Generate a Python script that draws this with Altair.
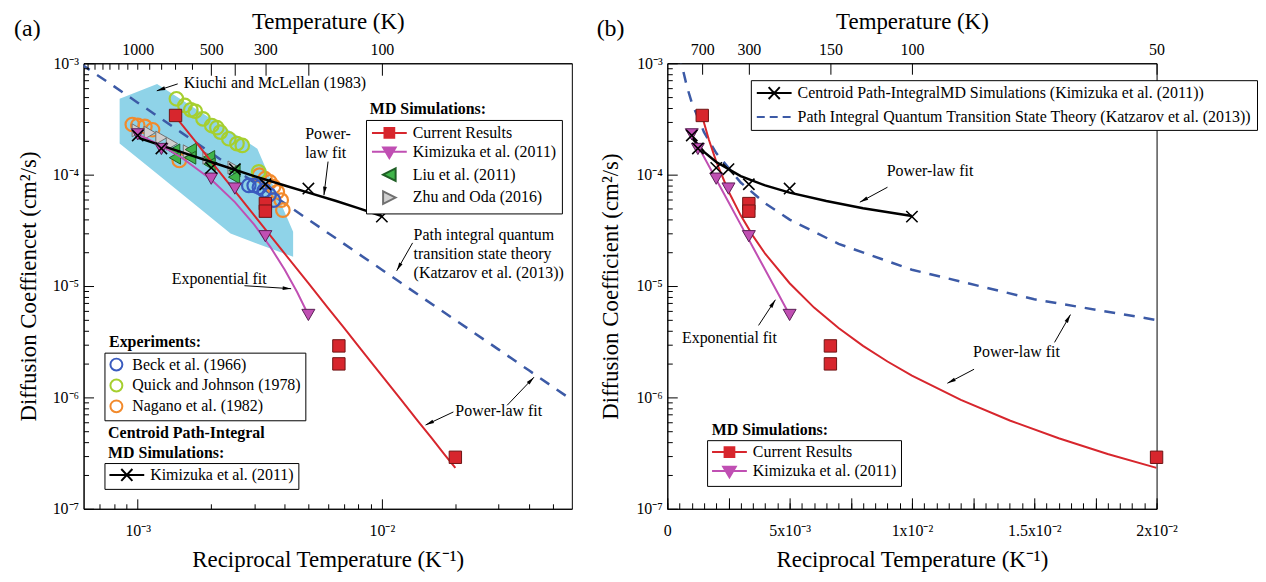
import math
import altair as alt
import pandas as pd

# ---------------- values ----------------
# x = reciprocal temperature 1/T (1/K), D = diffusion coefficient (cm^2/s)
cur_x = [1/700, 1/300, 1/300, 1/150, 1/150, 1/50]
cur_D = [3.4e-4, 5.5e-5, 4.7e-5, 2.9e-6, 2.0e-6, 2.9e-7]

kmd_x = [1/1000, 1/800, 1/500, 1/400, 1/300, 1/200]
kmd_D = [2.3e-4, 1.7e-4, 9.2e-5, 7.5e-5, 2.8e-5, 5.5e-6]

cpi_x = [1/1000, 1/800, 1/500, 1/400, 1/300, 1/200, 1/100]
cpi_D = [2.25e-4, 1.72e-4, 1.15e-4, 1.12e-4, 8.2e-5, 7.5e-5, 4.2e-5]

liu_x = [1.41e-3, 1.42e-3, 1.65e-3, 1.64e-3, 1.96e-3, 1.97e-3, 2.49e-3, 2.48e-3]
liu_D = [1.65e-4, 1.42e-4, 1.68e-4, 1.42e-4, 1.44e-4, 1.24e-4, 1.09e-4, 9.5e-5]

zhu_x = [1.0e-3, 1.12e-3, 1.25e-3, 1.38e-3, 1.62e-3, 1.95e-3, 2.47e-3]
zhu_D = [2.5e-4, 2.38e-4, 2.15e-4, 1.9e-4, 1.62e-4, 1.42e-4, 1.16e-4]

beck_x = [2.85e-3, 3.0e-3, 3.15e-3, 3.3e-3, 3.45e-3, 3.6e-3]
beck_D = [8.0e-5, 8.0e-5, 7.7e-5, 7.2e-5, 6.6e-5, 5.9e-5]

quick_x = [1.44e-3, 1.56e-3, 1.65e-3, 1.72e-3, 1.85e-3, 2.01e-3, 2.11e-3, 2.18e-3, 2.36e-3, 2.55e-3, 2.68e-3, 3.13e-3]
quick_D = [4.8e-4, 4.18e-4, 3.82e-4, 3.71e-4, 3.17e-4, 2.76e-4, 2.64e-4, 2.41e-4, 2.1e-4, 1.9e-4, 1.83e-4, 1.06e-4]

nag_x = [9.5e-4, 1.0e-3, 1.07e-3, 1.15e-3, 1.48e-3, 3.15e-3, 3.32e-3, 3.48e-3, 3.6e-3, 3.73e-3, 3.87e-3, 3.93e-3]
nag_D = [2.82e-4, 2.77e-4, 2.71e-4, 2.53e-4, 1.34e-4, 9.9e-5, 9.2e-5, 8.6e-5, 7.8e-5, 7.0e-5, 5.9e-5, 4.8e-5]

# Kiuchi and McLellan (1983) band: upper / lower edge
kiu_x = [8.43e-4, 1.2e-3, 2.4e-3, 3.09e-3, 4.33e-3]
kiu_hi = [4.8e-4, 6.53e-4, 2.45e-4, 1.71e-4, 3.07e-5]
kiu_lo = [1.9e-4, 1.02e-4, 2.96e-5, 2.4e-5, 1.83e-5]

# fitted curves
red_x = [1.43e-3, 1.7e-3, 2.0e-3, 2.5e-3, 3.0e-3, 3.5e-3, 4.0e-3, 5.0e-3, 6.0e-3, 7.0e-3,
         8.0e-3, 9.0e-3, 1.0e-2, 1.2e-2, 1.4e-2, 1.6e-2, 1.8e-2, 2.0e-2]
red_D = [3.31e-4, 2.06e-4, 1.31e-4, 7.1e-5, 4.31e-5, 2.82e-5, 1.95e-5, 1.06e-5, 6.4e-6, 4.2e-6,
         2.9e-6, 2.1e-6, 1.57e-6, 9.5e-7, 6.2e-7, 4.3e-7, 3.1e-7, 2.33e-7]

mag_x = [1.0e-3, 1.25e-3, 1.5e-3, 2.0e-3, 2.5e-3, 3.0e-3, 3.5e-3, 4.0e-3, 4.5e-3, 5.0e-3]
mag_D = [2.3e-4, 1.82e-4, 1.44e-4, 9.05e-5, 5.67e-5, 3.56e-5, 2.23e-5, 1.4e-5, 8.8e-6, 5.5e-6]

blk_x = [1.0e-3, 1.5e-3, 2.0e-3, 3.0e-3, 4.0e-3, 5.0e-3, 6.5e-3, 8.0e-3, 1.0e-2]
blk_D = [2.15e-4, 1.6e-4, 1.3e-4, 9.7e-5, 8.0e-5, 6.9e-5, 5.8e-5, 5.0e-5, 4.25e-5]

pq_x = [5.0e-4, 6e-4, 8e-4, 1e-3, 1.5e-3, 2e-3, 3e-3, 4e-3, 5e-3, 7e-3, 1e-2, 1.5e-2, 2e-2, 3e-2, 4e-2, 6e-2]
pq_D = [1.25e-3, 9.5e-4, 6.2e-4, 4.43e-4, 2.41e-4, 1.56e-4, 8.5e-5, 5.53e-5, 3.95e-5, 2.39e-5,
        1.4e-5, 7.6e-6, 4.95e-6, 2.7e-6, 1.75e-6, 9.5e-7]

# annotations, panel (a)
ann_a_txt = ["Kiuchi and McLellan (1983)", "Power-", "law fit", "Path integral quantum",
             "transition state theory", "(Katzarov et al. (2013))", "Exponential fit", "Power-law fit"]
ann_a_x = [1.543e-3, 4.85e-3, 4.85e-3, 1.349e-2, 1.349e-2, 1.349e-2, 1.378e-3, 2.0e-2]
ann_a_D = [6.67e-4, 2.34e-4, 1.55e-4, 2.87e-5, 1.94e-5, 1.32e-5, 1.16e-5, 7.55e-7]
head_a_txt = ["MD Simulations:", "Experiments:", "Centroid Path-Integral", "MD Simulations:"]
head_a_x = [8.93e-3, 7.63e-4, 7.56e-4, 7.56e-4]
head_a_D = [3.91e-4, 3.12e-6, 4.8e-7, 3.18e-7]
arr_a_x1 = [1.458e-3, 6.02e-3, 1.336e-2, 2.735e-3, 1.963e-2, 3.26e-2]
arr_a_D1 = [6.53e-4, 1.31e-4, 2.44e-5, 1.007e-5, 7.4e-7, 8.5e-7]
arr_a_x2 = [1.197e-3, 5.79e-3, 1.15e-2, 4.25e-3, 1.51e-2, 4.2e-2]
arr_a_D2 = [5.66e-4, 6.53e-5, 1.37e-5, 9.46e-6, 5.65e-7, 1.52e-6]

# annotations, panel (b)
ann_b_txt = ["Power-law fit", "Exponential fit", "Power-law fit"]
ann_b_x = [8.97e-3, 6.0e-4, 1.25e-2]
ann_b_D = [1.08e-4, 3.38e-6, 2.54e-6]
head_b_txt = ["MD Simulations:"]
head_b_x = [1.82e-3]
head_b_D = [5.1e-7]
arr_b_x1 = [9.0e-3, 3.73e-3, 1.254e-2, 1.583e-2]
arr_b_D1 = [7.71e-5, 4.43e-6, 1.79e-6, 3.12e-6]
arr_b_x2 = [7.87e-3, 4.42e-3, 1.145e-2, 1.648e-2]
arr_b_D2 = [5.66e-5, 7.53e-6, 1.34e-6, 5.54e-6]

# ---------------- styling / layout ----------------
SERIF = "Liberation Serif"
W_A, W_B, H = 491, 492, 448
XDOM_A = [6e-4, 6e-2]
XDOM_B = [0.0, 0.02]
YDOM = [1e-7, 1e-3]

RED, RED_E = "#d7262d", "#6e1414"
MAG, MAG_E = "#c04fb3", "#5a1f55"
GRN, GRN_E = "#3fb449", "#1f5f25"
GRY, GRY_E = "#d0d0d0", "#707070"
BLU_C, YG_C, OR_C = "#3a5bbf", "#a6cf2f", "#f28a2c"
DASH_C = "#3c5aa6"
BAND = "#8fd3e8"

xs_a = alt.Scale(type="log", domain=XDOM_A, nice=False)
xs_b = alt.Scale(type="linear", domain=XDOM_B, nice=False, zero=False)
ys = alt.Scale(type="log", domain=YDOM, nice=False)

X_PATH = "M-1,-1L1,1M-1,1L1,-1"
HEAD = "M0,0L0.4,1.8L-0.4,1.8Z"
P_LINE_SQ = "M-1,0H4M0.8,-0.7H2.2V0.7H0.8Z"
P_LINE_TRI = "M-1,0H4M0.6,-0.6H2.4L1.5,0.9Z"
P_LEFT = "M0.6,0L2.4,-0.9V0.9Z"
P_RIGHT = "M2.4,0L0.6,-0.9V0.9Z"
P_LINE_X = "M-1,0H4M0.7,-0.85L2.3,0.85M0.7,0.85L2.3,-0.85"
P_LINE = "M-1,0H4"


def ex(xs, f="x"):
    return alt.X(f"{f}:Q", scale=xs, axis=None)


def ey(f="D"):
    return alt.Y(f"{f}:Q", scale=ys, axis=None)


def tab(x, D, **extra):
    d = {"x": list(x), "D": list(D)}
    d.update(extra)
    return pd.DataFrame(d)


def line(xs, x, D, color, width=2.0, dash=None):
    kw = dict(color=color, strokeWidth=width, clip=True)
    if dash:
        kw["strokeDash"] = dash
    return alt.Chart(tab(x, D)).mark_line(**kw).encode(x=ex(xs), y=ey())


def pts(xs, x, D, shape, stroke, size, fill=None, sw=1.0):
    kw = dict(shape=shape, size=size, opacity=1, stroke=stroke, strokeWidth=sw, clip=False)
    if fill:
        kw.update(filled=True, fill=fill)
    else:
        kw.update(filled=False)
    return alt.Chart(tab(x, D)).mark_point(**kw).encode(x=ex(xs), y=ey())


def texts(xs, x, D, txt, bold=False, size=16, align="left"):
    return alt.Chart(tab(x, D, t=txt)).mark_text(
        align=align, baseline="middle", font=SERIF, fontSize=size,
        fontWeight="bold" if bold else "normal", color="black"
    ).encode(x=ex(xs), y=ey(), text="t:N")


def arrows(xs, x1, D1, x2, D2, topx):
    angs = []
    for a, b, c, d in zip(x1, D1, x2, D2):
        px1, px2 = topx(a), topx(c)
        py1 = H * (-3 - math.log10(b)) / 4
        py2 = H * (-3 - math.log10(d)) / 4
        ang = math.degrees(math.atan2(px2 - px1, -(py2 - py1))) % 360
        angs.append(ang)
    d = pd.DataFrame({"x": x1, "D": D1, "x2": x2, "D2": D2, "ang": angs})
    rule = alt.Chart(d).mark_rule(color="black", strokeWidth=1).encode(
        x=ex(xs), y=ey(), x2="x2:Q", y2="D2:Q")
    head = alt.Chart(d).mark_point(shape=HEAD, filled=True, color="black", size=90, opacity=1).encode(
        x=ex(xs, "x2"), y=ey("D2"), angle=alt.Angle("ang:Q", scale=None))
    return [rule, head]


def axis_layer(xs, xv, xaxis=None, yaxis=None):
    return alt.Chart(pd.DataFrame({"x": [xv], "D": [1e-5]})).mark_point(opacity=0).encode(
        x=alt.X("x:Q", scale=xs, axis=xaxis), y=alt.Y("D:Q", scale=ys, axis=yaxis))


def lab_axis(orient, values, expr, title, lp, tp):
    return alt.Axis(orient=orient, values=values, labelExpr=expr, ticks=False, domain=True,
                    domainColor="black", domainWidth=1, labelPadding=lp, title=title, titlePadding=tp,
                    labelFont=SERIF, labelFontSize=16, labelColor="black", labelFlush=False,
                    labelOverlap=False, grid=False, titleFont=SERIF, titleFontSize=23,
                    titleColor="black", titleFontWeight="normal")


def tick_axis(orient, offset, values, size):
    return alt.Axis(orient=orient, offset=offset, values=values, labels=False, ticks=True,
                    tickSize=size, tickColor="black", tickWidth=1, domain=False, grid=False,
                    title=None, zindex=1)


def legend_layer(xs, far_x, names, shapes, fills, strokes, lx, ly, ssize=196, loff=26,
                 fsize=16, pad=5, rowpad=1, dashes=None):
    d = pd.DataFrame({"x": [far_x] * len(names), "D": [1e-5] * len(names), "s": names})
    leg = alt.Legend(title=None, orient="none", legendX=lx, legendY=ly, strokeColor="black",
                     fillColor="white", padding=pad, labelFont=SERIF, labelFontSize=fsize,
                     labelColor="black", symbolSize=ssize, symbolStrokeWidth=2, labelOffset=loff,
                     rowPadding=rowpad, labelLimit=700)
    e = dict(
        x=ex(xs), y=ey(),
        shape=alt.Shape("s:N", scale=alt.Scale(domain=names, range=shapes), legend=leg),
        fill=alt.Fill("s:N", scale=alt.Scale(domain=names, range=fills), legend=leg),
        stroke=alt.Stroke("s:N", scale=alt.Scale(domain=names, range=strokes), legend=leg),
    )
    if dashes:
        e["strokeDash"] = alt.StrokeDash("s:N", scale=alt.Scale(domain=names, range=dashes), legend=leg)
    return alt.Chart(d).mark_point(clip=True, opacity=1, strokeWidth=2).encode(**e)


YMAJ = [1e-7, 1e-6, 1e-5, 1e-4, 1e-3]
YMIN = [k * 10.0 ** e for e in range(-7, -3) for k in range(2, 10)]
YLAB = ("datum.value < 5e-7 ? '10⁻⁷' : datum.value < 5e-6 ? '10⁻⁶' : "
        "datum.value < 5e-5 ? '10⁻⁵' : datum.value < 5e-4 ? '10⁻⁴' : '10⁻³'")
TLAB = "'' + round(1/datum.value)"

# ---------------- panel (a) ----------------
def topx_a(x):
    return W_A * (math.log10(x) - math.log10(XDOM_A[0])) / 2


XMIN_A = [7e-4, 8e-4, 9e-4, 2e-3, 3e-3, 4e-3, 5e-3, 6e-3, 7e-3, 8e-3, 9e-3, 2e-2, 3e-2, 4e-2, 5e-2]
XLAB_A = "datum.value < 5e-3 ? '10⁻³' : '10⁻²'"
TLONG_A = [1/500, 1/400, 1/300, 1/200, 1/100]
TSHORT_A = [1/t for t in range(600, 1700, 100)]

band = alt.Chart(pd.DataFrame({"x": kiu_x, "hi": kiu_hi, "lo": kiu_lo})).mark_area(
    color=BAND, opacity=1, clip=True).encode(x=ex(xs_a), y=ey("hi"), y2="lo:Q")

layers_a = [
    band,
    line(xs_a, pq_x, pq_D, DASH_C, 2.5, [11, 9]),
    pts(xs_a, nag_x, nag_D, "circle", OR_C, 185, sw=2.2),
    pts(xs_a, quick_x, quick_D, "circle", YG_C, 185, sw=2.2),
    pts(xs_a, beck_x, beck_D, "circle", BLU_C, 185, sw=2.2),
    pts(xs_a, zhu_x, zhu_D, "triangle-right", GRY_E, 170, fill=GRY),
    pts(xs_a, liu_x, liu_D, "triangle-left", GRN_E, 170, fill=GRN),
    line(xs_a, red_x, red_D, RED, 2),
    line(xs_a, mag_x, mag_D, MAG, 2),
    line(xs_a, blk_x, blk_D, "black", 2.5),
    pts(xs_a, cur_x, cur_D, "square", RED_E, 155, fill=RED),
    pts(xs_a, kmd_x, kmd_D, "triangle-down", MAG_E, 170, fill=MAG),
    pts(xs_a, cpi_x, cpi_D, X_PATH, "black", 130, sw=1.6),
    texts(xs_a, ann_a_x, ann_a_D, ann_a_txt),
    texts(xs_a, head_a_x, head_a_D, head_a_txt, bold=True),
    texts(xs_a, [3.53e-4], [2.02e-3], ["(a)"], size=24, align="center"),
    *arrows(xs_a, arr_a_x1, arr_a_D1, arr_a_x2, arr_a_D2, topx_a),
    axis_layer(xs_a, 1e-3, yaxis=lab_axis("left", YMAJ, YLAB, "Diffusion Coeffiencet (cm²/s)", 5, 12)),
    axis_layer(xs_a, 1e-3, yaxis=tick_axis("right", -W_A, YMAJ, 10)),
    axis_layer(xs_a, 1e-3, yaxis=tick_axis("right", -W_A, YMIN, 5)),
    axis_layer(xs_a, 1e-3, xaxis=lab_axis("bottom", [1e-3, 1e-2], XLAB_A, "Reciprocal Temperature (K⁻¹)", 14, 10)),
    axis_layer(xs_a, 1e-3, xaxis=tick_axis("top", -H, [1e-3, 1e-2], 10)),
    axis_layer(xs_a, 1e-3, xaxis=tick_axis("top", -H, XMIN_A, 5)),
    axis_layer(xs_a, 1e-3, xaxis=lab_axis("top", [1/1000, 1/500, 1/300, 1/100], TLAB, "Temperature (K)", 6, 8)),
    axis_layer(xs_a, 1e-3, xaxis=tick_axis("bottom", -H, TLONG_A, 12)),
    axis_layer(xs_a, 1e-3, xaxis=tick_axis("bottom", -H, TSHORT_A, 6)),
    legend_layer(xs_a, 1e-5,
                 ["Current Results", "Kimizuka et al. (2011)", "Liu et al. (2011)", "Zhu and Oda (2016)"],
                 [P_LINE_SQ, P_LINE_TRI, P_LEFT, P_RIGHT],
                 [RED, MAG, GRN, GRY], [RED, MAG, GRN_E, GRY_E], 284, 57),
    legend_layer(xs_a, 1e-5,
                 ["Beck et al. (1966)", "Quick and Johnson (1978)", "Nagano et al. (1982)"],
                 ["circle", "circle", "circle"], ["transparent"] * 3, [BLU_C, YG_C, OR_C],
                 21, 291, ssize=144, loff=8, pad=4),
    legend_layer(xs_a, 1e-5, ["Kimizuka et al. (2011)"], [P_LINE_X], ["transparent"], ["black"],
                 21, 402, pad=4),
]

IND = dict(shape="independent", fill="independent", stroke="independent", strokeDash="independent")

panel_a = alt.layer(*layers_a).properties(width=W_A, height=H).resolve_scale(**IND).resolve_axis(
    x="independent", y="independent")

# ---------------- panel (b) ----------------
def topx_b(x):
    return W_B * x / 0.02


XLAB_B = ("datum.value < 1e-4 ? '0' : datum.value < 6e-3 ? '5x10⁻³' : datum.value < 1.2e-2 ? "
          "'1x10⁻²' : datum.value < 1.7e-2 ? '1.5x10⁻²' : '2x10⁻²'")
XMID_B = [i * 2.5e-3 for i in range(9)]
XMIN_B = [i * 5e-4 for i in range(41)]
T_B = [1/700, 1/300, 1/150, 1/100, 1/50]

layers_b = [
    line(xs_b, pq_x, pq_D, DASH_C, 2.5, [11, 9]),
    line(xs_b, red_x, red_D, RED, 2),
    line(xs_b, mag_x, mag_D, MAG, 2),
    line(xs_b, blk_x, blk_D, "black", 2.5),
    pts(xs_b, cur_x, cur_D, "square", RED_E, 155, fill=RED),
    pts(xs_b, kmd_x, kmd_D, "triangle-down", MAG_E, 170, fill=MAG),
    pts(xs_b, cpi_x, cpi_D, X_PATH, "black", 130, sw=1.6),
    texts(xs_b, ann_b_x, ann_b_D, ann_b_txt),
    texts(xs_b, head_b_x, head_b_D, head_b_txt, bold=True),
    texts(xs_b, [-2.32e-3], [2.02e-3], ["(b)"], size=24, align="center"),
    *arrows(xs_b, arr_b_x1, arr_b_D1, arr_b_x2, arr_b_D2, topx_b),
    axis_layer(xs_b, 0.01, yaxis=lab_axis("left", YMAJ, YLAB, "Diffusion Coefficient (cm²/s)", 5, 14)),
    axis_layer(xs_b, 0.01, yaxis=tick_axis("right", -W_B, YMAJ, 10)),
    axis_layer(xs_b, 0.01, yaxis=tick_axis("right", -W_B, YMIN, 5)),
    axis_layer(xs_b, 0.01, xaxis=lab_axis("bottom", [0.0, 5e-3, 1e-2, 1.5e-2, 2e-2], XLAB_B,
                                          "Reciprocal Temperature (K⁻¹)", 14, 10)),
    axis_layer(xs_b, 0.01, xaxis=tick_axis("top", -H, XMID_B, 11)),
    axis_layer(xs_b, 0.01, xaxis=tick_axis("top", -H, XMIN_B, 6)),
    axis_layer(xs_b, 0.01, xaxis=lab_axis("top", T_B, TLAB, "Temperature (K)", 6, 8)),
    axis_layer(xs_b, 0.01, xaxis=tick_axis("bottom", -H, T_B, 11)),
    legend_layer(xs_b, -1.0,
                 ["Centroid Path-IntegralMD Simulations (Kimizuka et al. (2011))",
                  "Path Integral Quantum Transition State Theory (Katzarov et al. (2013))"],
                 [P_LINE_X, P_LINE], ["transparent", "transparent"], ["black", DASH_C],
                 84, 17, fsize=16, pad=5, rowpad=6, dashes=[[1, 0], [8, 5]]),
    legend_layer(xs_b, -1.0, ["Current Results", "Kimizuka et al. (2011)"],
                 [P_LINE_SQ, P_LINE_TRI], [RED, MAG], [RED, MAG], 40, 379, pad=4),
]

panel_b = alt.layer(*layers_b).properties(width=W_B, height=H).resolve_scale(**IND).resolve_axis(
    x="independent", y="independent")

chart = alt.hconcat(panel_a, panel_b, spacing=23).resolve_scale(**IND).properties(
    padding={"left": 5, "top": 0, "right": 0, "bottom": 0}
).configure(background="white").configure_view(stroke="black", strokeWidth=1)

chart.save("out.html", embed_options={"renderer": "svg", "actions": False})
